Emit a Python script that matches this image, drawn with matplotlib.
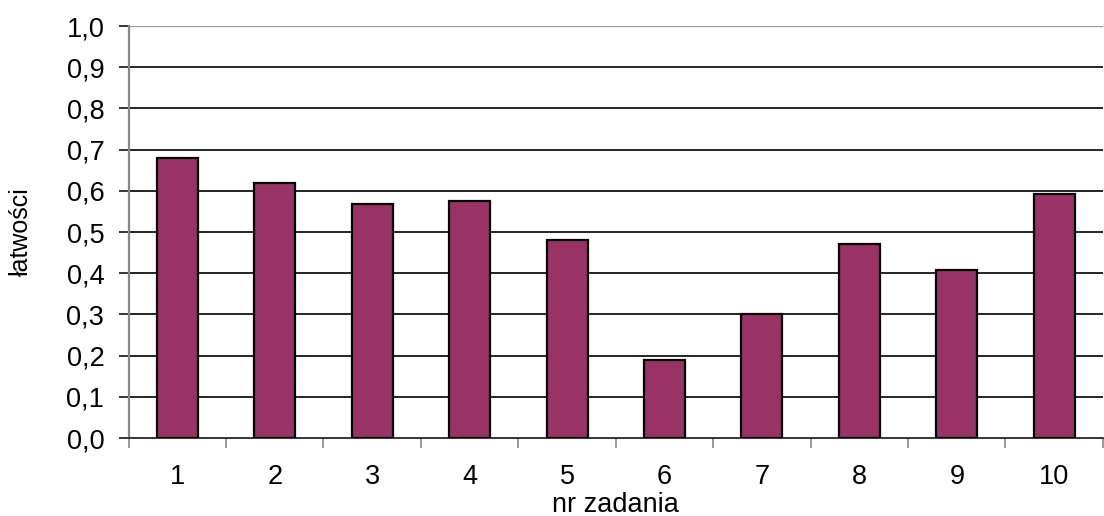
import matplotlib
matplotlib.use("Agg")
import matplotlib.pyplot as plt
import numpy as np

plt.rcParams['font.family'] = ['Liberation Sans', 'DejaVu Sans']

tasks = ['1', '2', '3', '4', '5', '6', '7', '8', '9', '10']
ease = [0.68, 0.62, 0.567, 0.576, 0.48, 0.19, 0.30, 0.47, 0.408, 0.592]
yticks = [0.0, 0.1, 0.2, 0.3, 0.4, 0.5, 0.6, 0.7, 0.8, 0.9, 1.0]
ytick_labels = ['0,0', '0,1', '0,2', '0,3', '0,4', '0,5', '0,6', '0,7', '0,8', '0,9', '1,0']

fig = plt.figure(figsize=(11.04, 5.16), dpi=100)
ax = fig.add_axes([0.1165, 0.151, 0.8825, 0.7985])

x = np.arange(len(tasks))
ax.bar(x, ease, width=0.42, color='#993366', edgecolor='black', linewidth=1.6, zorder=3)

ax.set_xlim(-0.5, len(tasks) - 0.5)
ax.set_ylim(0, 1.0)

# horizontal gridlines
for v in yticks[1:-1]:
    ax.axhline(v, color='black', linewidth=1.2, zorder=1)
ax.axhline(1.0, color='#999999', linewidth=1.6, zorder=1)

ax.set_yticks(yticks)
ax.set_yticklabels(ytick_labels, fontsize=19.5)
ax.tick_params(axis='y', length=7.5, width=1.1, color='black', pad=10)

# category labels centred, tick marks at category boundaries
ax.set_xticks(x)
ax.set_xticklabels(tasks, fontsize=19.5)
ax.tick_params(axis='x', which='major', length=0, pad=19)
ax.set_xticks(np.arange(-0.5, len(tasks) - 0.4, 1.0), minor=True)
ax.tick_params(axis='x', which='minor', length=7, width=1.2, color='#888888')

for s in ['top', 'right']:
    ax.spines[s].set_visible(False)
ax.spines['left'].set_color('#888888')
ax.spines['left'].set_linewidth(1.6)
ax.spines['bottom'].set_color('black')
ax.spines['bottom'].set_linewidth(1.1)

ax.set_ylabel('łatwości', fontsize=18)
ax.yaxis.set_label_coords(-0.098, 0.5)
ax.set_xlabel('nr zadania', fontsize=19.5, va='top')
ax.xaxis.set_label_coords(0.5, -0.13)

fig.savefig('out.png', dpi=100)
